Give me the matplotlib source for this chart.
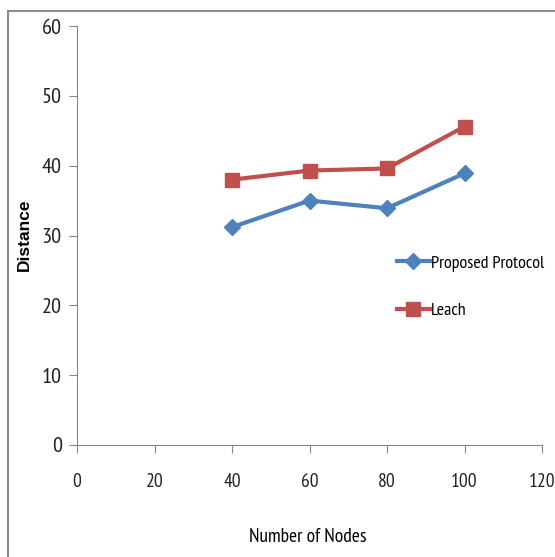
import matplotlib.pyplot as plt
from matplotlib.patches import Rectangle
from matplotlib import font_manager

# data
nodes = [40, 60, 80, 100]
proposed = [31.2, 35.0, 33.9, 38.9]
leach = [38.0, 39.3, 39.6, 45.6]

x_ticks = [0, 20, 40, 60, 80, 100, 120]
y_ticks = [0, 10, 20, 30, 40, 50, 60]

# narrow sans for ticks, legend and x title
names = {f.name for f in font_manager.fontManager.ttflist}
narrow = next((n for n in ['PT Sans Narrow', 'Archivo Narrow', 'Roboto Condensed',
                           'Fira Sans Condensed', 'Liberation Sans Narrow', 'Carlito']
               if n in names), 'DejaVu Sans')
bold_font = 'Liberation Sans' if 'Liberation Sans' in names else 'DejaVu Sans'

fig = plt.figure(figsize=(5.55, 5.57), dpi=100)
ax = fig.add_axes([77/555, 1 - 445/557, (542 - 77)/555, (445 - 26)/557])

# outer frame (left and top edges only show)
fig.patches.append(Rectangle((8/555, -0.1), 1.2, 1 - 11/557 + 0.1, transform=fig.transFigure,
                             fill=False, edgecolor='#8c8c8c', linewidth=1.5))

ax.plot(nodes, proposed, color='#4F81BD', linewidth=3, marker='D', markersize=8,
        label='Proposed Protocol')
ax.plot(nodes, leach, color='#C0504D', linewidth=3, marker='s', markersize=10,
        label='Leach')

ax.set_xlim(0, 120)
ax.set_ylim(0, 60)
ax.set_xticks(x_ticks)
ax.set_yticks(y_ticks)

for s in ['top', 'right']:
    ax.spines[s].set_visible(False)
for s in ['left', 'bottom']:
    ax.spines[s].set_color('#868686')
ax.tick_params(direction='out', length=6, color='#868686', labelsize=16)
ax.tick_params(axis='x', pad=14, labelsize=14)
ax.tick_params(axis='y', pad=5)
for lbl in ax.get_xticklabels() + ax.get_yticklabels():
    lbl.set_fontfamily(narrow)
    lbl.set_color('#222222')

fig.text(308/555, 1 - 537/557, 'Number of Nodes', ha='center', va='center',
         fontsize=14, family=narrow)
fig.text(24/555, 1 - 235/557, 'Distance', ha='center', va='center',
         rotation=90, fontsize=12.5, fontweight='bold', family=bold_font)

leg = ax.legend(loc='center left', bbox_to_anchor=(397/555, 1 - 287/557),
                bbox_transform=fig.transFigure, frameon=False, borderpad=0,
                borderaxespad=0, prop={'family': narrow, 'size': 13},
                handlelength=1.8, handletextpad=0.1, labelspacing=1.7)

fig.savefig('out.png', dpi=100, facecolor='white')
